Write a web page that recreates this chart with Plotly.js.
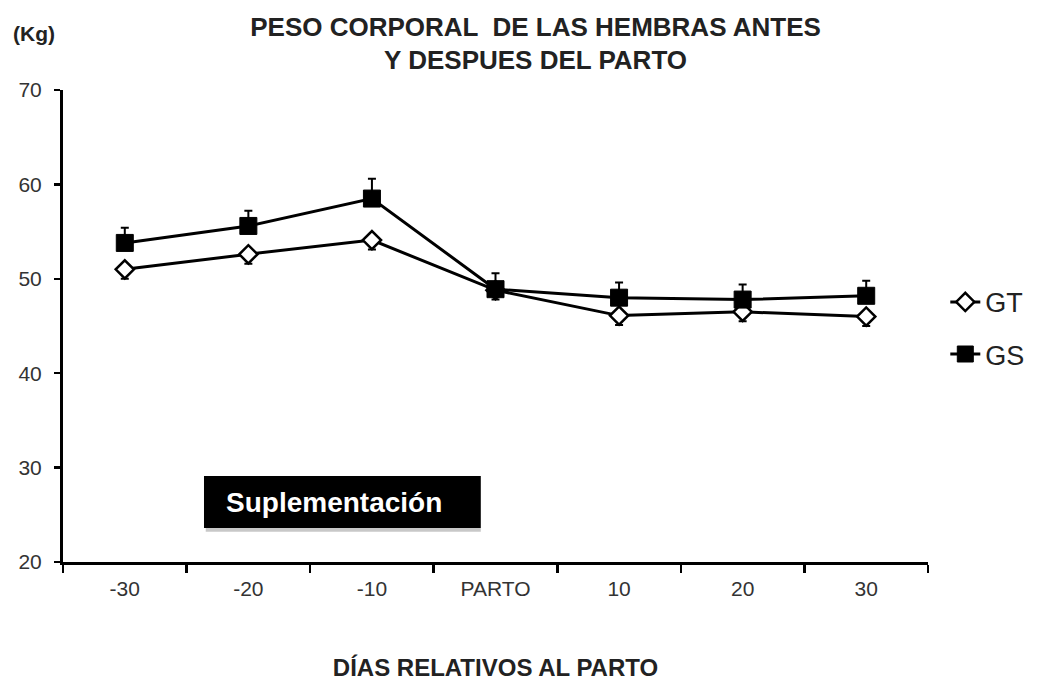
<!DOCTYPE html>
<html>
<head>
<meta charset="utf-8">
<script src="https://cdn.plot.ly/plotly-3.0.1.min.js"></script>
<style>html,body{margin:0;padding:0;background:#fff;}#chart{width:1046px;height:684px;}</style>
</head>
<body>
<div id="chart"></div>
<script>
var categories = ["-30", "-20", "-10", "PARTO", "10", "20", "30"];
var gtValues = [51.0, 52.6, 54.1, 48.8, 46.1, 46.5, 46.0];
var gtErrDown = [1.0, 1.0, 1.0, 1.0, 1.0, 1.0, 1.0];
var gsValues = [53.8, 55.6, 58.5, 48.9, 48.0, 47.8, 48.2];
var gsErrUp = [1.6, 1.6, 2.1, 1.7, 1.6, 1.6, 1.6];
var zeros = [0, 0, 0, 0, 0, 0, 0];

var traces = [
  {
    x: categories, y: gtValues, type: "scatter", mode: "lines+markers", name: "GT",
    legendgroup: "a",
    line: {color: "#000", width: 3},
    marker: {symbol: "diamond", size: 14, color: "#fff", line: {color: "#000", width: 2.5}},
    error_y: {type: "data", symmetric: false, array: zeros, arrayminus: gtErrDown, color: "#000", thickness: 2, width: 4}
  },
  {
    x: categories, y: gsValues, type: "scatter", mode: "lines+markers", name: "GS",
    legendgroup: "b",
    line: {color: "#000", width: 3},
    marker: {symbol: "square", size: 17, color: "#000", line: {color: "#000", width: 1}},
    error_y: {type: "data", symmetric: false, array: gsErrUp, arrayminus: zeros, color: "#000", thickness: 2, width: 4}
  }
];

var layout = {
  width: 1046, height: 684,
  margin: {l: 63, r: 118, t: 90, b: 122},
  paper_bgcolor: "#fff", plot_bgcolor: "#fff",
  font: {family: "Liberation Sans, Arial, sans-serif", color: "#222"},
  title: {
    text: "<b>PESO CORPORAL  DE LAS HEMBRAS ANTES<br>Y DESPUES DEL PARTO</b>",
    x: 0.512, xanchor: "center", yref: "container", y: 0.948, yanchor: "middle",
    font: {size: 26, color: "#222"}
  },
  xaxis: {
    type: "category", tickson: "boundaries",
    showline: true, linecolor: "#000", linewidth: 3,
    ticks: "outside", ticklen: 8, tickwidth: 2.5, tickcolor: "#000",
    showgrid: false, zeroline: false,
    tickfont: {size: 21, color: "#333"},
    ticklabelstandoff: 6,
    title: {text: "<b>DÍAS RELATIVOS AL PARTO</b>", font: {size: 24, color: "#222"}, standoff: 60},
    range: [-0.5, 6.5]
  },
  yaxis: {
    range: [20, 70], dtick: 10,
    showline: true, linecolor: "#000", linewidth: 3,
    ticks: "outside", ticklen: 6, tickwidth: 2.5, tickcolor: "#000",
    showgrid: false, zeroline: false,
    tickfont: {size: 21, color: "#333"},
    ticklabelstandoff: 8
  },
  legend: {
    x: 1.02, xanchor: "left", y: 0.495, yanchor: "middle",
    font: {size: 27, color: "#222"},
    tracegroupgap: 14, itemwidth: 30
  },
  shapes: [
    {type: "rect", xref: "paper", yref: "paper", x0: 0.165, x1: 0.483, y0: 0.064, y1: 0.072,
     fillcolor: "#c8c8c8", line: {width: 0}, layer: "above"},
    {type: "rect", xref: "paper", yref: "paper", x0: 0.163, x1: 0.483, y0: 0.072, y1: 0.182,
     fillcolor: "#000", line: {width: 0}, layer: "above"}
  ],
  annotations: [
    {text: "<b>(Kg)</b>", xref: "paper", yref: "paper", x: -0.06, y: 1.12, xanchor: "left", yanchor: "middle",
     showarrow: false, font: {size: 21, color: "#222"}},
    {text: "<b>Suplementación</b>", xref: "paper", yref: "paper", x: 0.186, y: 0.127, xanchor: "left", yanchor: "middle",
     showarrow: false, font: {size: 28, color: "#fff"}}
  ]
};

Plotly.newPlot("chart", traces, layout, {displayModeBar: false, staticPlot: true});
</script>
</body>
</html>
